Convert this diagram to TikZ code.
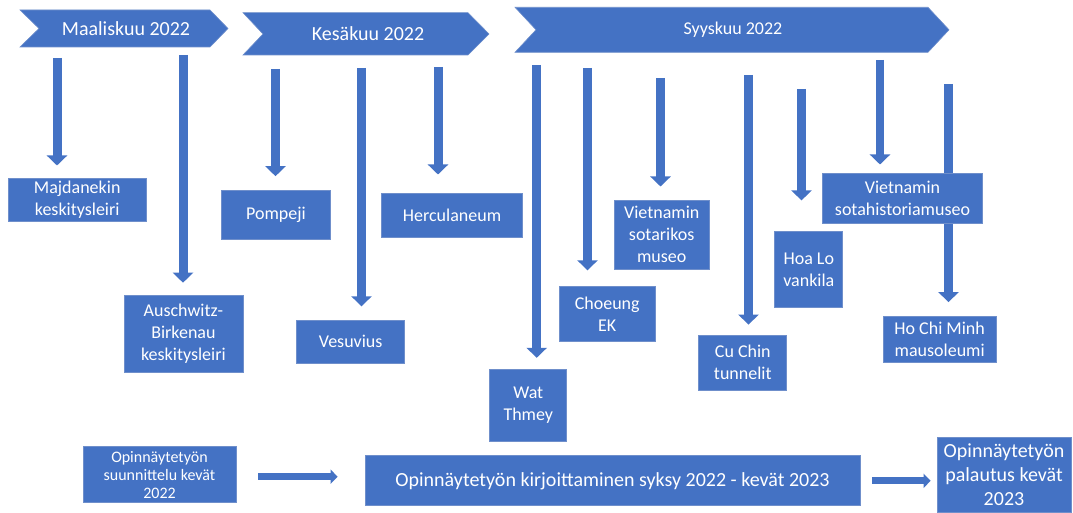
\documentclass[tikz,border=0pt]{standalone}
\usepackage{fontspec}
\setmainfont{Carlito}
\usetikzlibrary{arrows.meta,backgrounds}

\definecolor{officeblue}{HTML}{4472C4}
\definecolor{boxline}{HTML}{6F8FCB}

\tikzset{
  place/.style={rectangle,draw=boxline,line width=0.8pt,fill=officeblue,text=white,
    align=center,inner sep=0pt,font=\fontsize{18}{22}\selectfont},
  monthbar/.style={fill=officeblue,draw=boxline,line width=0.6pt},
  monthtext/.style={text=white,inner sep=0pt},
  downarrow/.style={draw=officeblue,line width=9pt,-{Triangle[width=20pt,length=10pt]}},
  sidearrow/.style={draw=officeblue,line width=7pt,-{Triangle[width=14pt,length=7pt]}}
}

\begin{document}
\begin{tikzpicture}[x=1pt,y=-1pt]
            \useasboundingbox (0,0) rectangle (1073,513);
            % month chevrons
            \path[monthbar] (20,10)--(210,10)--(228,28.5)--(210,47)--(20,47)--(39,28.5)--cycle;
            \path[monthbar] (243,12.7)--(468,12.7)--(489,34)--(468,55)--(243,55)--(263,34)--cycle;
            \path[monthbar] (515,7.3)--(928,7.3)--(949,29.8)--(928,52.3)--(515,52.3)--(536,29.8)--cycle;
            \node[monthtext,font=\fontsize{20}{24}\selectfont](maalis) at (126,28.5){Maaliskuu 2022};
            \node[monthtext,font=\fontsize{20}{24}\selectfont](kesa) at (368,34){Kesäkuu 2022};
            \node[monthtext,font=\fontsize{18}{22}\selectfont](syys) at (733,29.8){Syyskuu 2022};
            % places
            \node[place,minimum width=138,minimum height=42](majd) at (77.2,199.9){Majdanekin\\keskitysleiri};
            \node[place,minimum width=119,minimum height=77](ausch) at (183.4,334){Auschwitz-\\Birkenau\\keskitysleiri};
            \node[place,minimum width=109,minimum height=48](pomp) at (276,214.9){Pompeji};
            \node[place,minimum width=141,minimum height=44](herc) at (452,215.5){Herculaneum};
            \node[place,minimum width=108,minimum height=43](vesu) at (350.7,341.8){Vesuvius};
            \node[place,minimum width=77,minimum height=72](wat) at (528.3,405.5){Wat\\Thmey};
            \node[place,minimum width=96,minimum height=55](choe) at (607.2,314.2){Choeung\\EK};
            \node[place,minimum width=95,minimum height=69](sotar) at (661.7,234.7){Vietnamin\\sotarikos\\museo};
            \node[place,minimum width=88,minimum height=55](cuchin) at (742.8,362.8){Cu Chin\\tunnelit};
            \node[place,minimum width=68,minimum height=76](hoalo) at (808.8,269.8){Hoa Lo\\vankila};
            \node[place,minimum width=160,minimum height=50](sotah) at (902.5,198.2){Vietnamin\\sotahistoriamuseo};
            \node[place,minimum width=113,minimum height=46](hcm) at (939.7,339.5){Ho Chi Minh\\mausoleumi};
            % thesis row
            \node[place,minimum width=153,minimum height=56,font=\fontsize{16}{18}\selectfont](plan) at (159.5,474.7){Opinnäytetyön\\suunnittelu kevät\\2022};
            \node[place,minimum width=495,minimum height=50,font=\fontsize{20}{24}\selectfont](write) at (612.5,480.8){Opinnäytetyön kirjoittaminen syksy 2022 - kevät 2023};
            \node[place,minimum width=134,minimum height=75,font=\fontsize{20}{24}\selectfont](palaut) at (1004,474.5){Opinnäytetyön\\palautus kevät\\2023};
            % arrow tops
            \coordinate (a1) at (57,58);
            \coordinate (a2) at (183,55);
            \coordinate (a3) at (275.5,69);
            \coordinate (a4) at (361.5,68);
            \coordinate (a5) at (438,67);
            \coordinate (a6) at (536.7,65);
            \coordinate (a7) at (587.5,68);
            \coordinate (a8) at (660.5,78);
            \coordinate (a9) at (748.5,75);
            \coordinate (a10) at (801.5,89);
            \coordinate (a11) at (880,60);
            \coordinate (a12) at (948.5,84);
            \begin{scope}[on background layer]
            \draw[downarrow,shorten >=13pt] (a1)--(a1|-majd.north);
            \draw[downarrow,shorten >=12.4pt] (a2)--(a2|-ausch.north);
            \draw[downarrow,shorten >=14.3pt] (a3)--(a3|-pomp.north);
            \draw[downarrow,shorten >=13.6pt] (a4)--(a4|-vesu.north);
            \draw[downarrow,shorten >=18.6pt] (a5)--(a5|-herc.north);
            \draw[downarrow,shorten >=11.3pt] (a6)--(a6|-wat.north);
            \draw[downarrow,shorten >=16pt] (a7)--(a7|-choe.north);
            \draw[downarrow,shorten >=13.3pt] (a8)--(a8|-sotar.north);
            \draw[downarrow,shorten >=10.3pt] (a9)--(a9|-cuchin.north);
            \draw[downarrow,shorten >=31pt] (a10)--(a10|-hoalo.north);
            \draw[downarrow,line width=8pt,shorten >=8.3pt] (a11)--(a11|-sotah.north);
            \draw[downarrow,shorten >=14pt] (a12)--(a12|-hcm.north);
            \end{scope}
            \draw[sidearrow,shorten <=22pt,shorten >=27pt] ([yshift=-2pt]plan.east)--([yshift=-2pt]plan.east-|write.west);
            \draw[sidearrow,shorten <=12pt,shorten >=6pt] (write.east)--(write.east-|palaut.west);
        \end{tikzpicture}
\end{document}
